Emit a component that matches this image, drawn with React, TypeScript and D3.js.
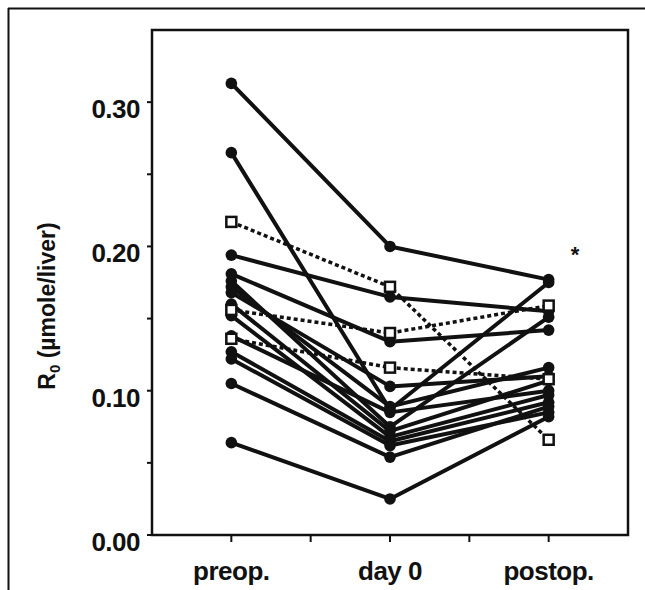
import React from "react";
import * as d3 from "d3";

const categories = ["preop.", "day 0", "postop."];
const yTickValues = [0, 0.05, 0.1, 0.15, 0.2, 0.25, 0.3];
const yTickLabels = ["0.00", "", "0.10", "", "0.20", "", "0.30"];
const xTickValues = [0, 0.5, 1, 1.5, 2];

// filled-circle subjects (solid lines): [preop, day 0, postop]
const solidSeries: number[][] = [
  [0.313, 0.2, 0.177],
  [0.265, 0.087, 0.175],
  [0.194, 0.165, 0.155],
  [0.181, 0.134, 0.142],
  [0.176, 0.075, 0.151],
  [0.172, 0.089, 0.116],
  [0.168, 0.103, 0.11],
  [0.16, 0.072, 0.107],
  [0.152, 0.068, 0.097],
  [0.138, 0.085, 0.1],
  [0.127, 0.065, 0.092],
  [0.122, 0.062, 0.085],
  [0.105, 0.054, 0.089],
  [0.064, 0.025, 0.082],
];

// open-square subjects (dotted lines)
const dashedSeries: number[][] = [
  [0.217, 0.172, 0.066],
  [0.156, 0.14, 0.159],
  [0.136, 0.116, 0.108],
];

const W = 645;
const H = 590;
const left = 152;
const right = 628;
const top = 30;
const bottom = 535;

export default function App() {
  const x = d3.scaleLinear().domain([-0.5, 2.5]).range([left, right]);
  const y = d3.scaleLinear().domain([0, 0.35]).range([bottom, top]);
  const line = d3
    .line<number>()
    .x((_, i) => x(i))
    .y((d) => y(d));
  const ink = "#111";
  const font = "'Liberation Sans', Arial, Helvetica, sans-serif";

  return (
    <svg
      width={W}
      height={H}
      style={{ position: "absolute", left: 0, top: 0, background: "#fff" }}
      fontFamily={font}
    >
      <rect x={0} y={0} width={W} height={H} fill="#fff" />
      {/* outer frame */}
      <line x1={8.5} y1={8} x2={8.5} y2={H} stroke={ink} strokeWidth={2} />
      <line x1={8} y1={8.5} x2={W} y2={8.5} stroke={ink} strokeWidth={2} />

      {/* plot box */}
      <rect
        x={left}
        y={top}
        width={right - left}
        height={bottom - top}
        fill="none"
        stroke={ink}
        strokeWidth={2.5}
      />

      {/* y ticks */}
      {yTickValues.map((v, i) => (
        <g key={"yt" + i}>
          <line x1={left - 5} x2={left} y1={y(v)} y2={y(v)} stroke={ink} strokeWidth={2} />
          {yTickLabels[i] && (
            <text
              x={140}
              y={y(v) + 7}
              textAnchor="end"
              dominantBaseline="central"
              fontSize={26}
              fontWeight="bold"
              letterSpacing={-0.5}
              fill={ink}
            >
              {yTickLabels[i]}
            </text>
          )}
        </g>
      ))}

      {/* x ticks */}
      {xTickValues.map((v, i) => (
        <line
          key={"xt" + i}
          x1={x(v)}
          x2={x(v)}
          y1={bottom}
          y2={bottom + 7}
          stroke={ink}
          strokeWidth={2}
        />
      ))}
      {categories.map((c, i) => (
        <text
          key={"xl" + i}
          x={x(i)}
          y={580}
          textAnchor="middle"
          fontSize={26}
          fontWeight="bold"
          letterSpacing={-0.5}
          fill={ink}
        >
          {c}
        </text>
      ))}

      {/* y axis title */}
      <text
        transform={`translate(55, 306) rotate(-90)`}
        textAnchor="middle"
        fontSize={23}
        fontWeight="bold"
        fill={ink}
      >
        R
        <tspan fontSize={15} dy={5}>
          0
        </tspan>
        <tspan dy={-5}> (µmole/liver)</tspan>
      </text>

      {/* solid lines */}
      {solidSeries.map((s, i) => (
        <path
          key={"sl" + i}
          d={line(s) || ""}
          fill="none"
          stroke={ink}
          strokeWidth={4}
          strokeLinejoin="round"
        />
      ))}
      {/* dashed lines */}
      {dashedSeries.map((s, i) => (
        <path
          key={"dl" + i}
          d={line(s) || ""}
          fill="none"
          stroke={ink}
          strokeWidth={3.5}
          strokeDasharray="4 3"
        />
      ))}
      {/* filled markers */}
      {solidSeries.map((s, i) =>
        s.map((v, j) => (
          <circle key={`c${i}-${j}`} cx={x(j)} cy={y(v)} r={5.8} fill={ink} />
        ))
      )}
      {/* open squares */}
      {dashedSeries.map((s, i) =>
        s.map((v, j) => (
          <rect
            key={`q${i}-${j}`}
            x={x(j) - 5}
            y={y(v) - 5}
            width={10}
            height={10}
            fill="#fff"
            stroke={ink}
            strokeWidth={2.5}
          />
        ))
      )}

      {/* significance mark */}
      <text x={575} y={262} textAnchor="middle" fontSize={22} fontWeight="bold" fill={ink}>
        *
      </text>
    </svg>
  );
}
